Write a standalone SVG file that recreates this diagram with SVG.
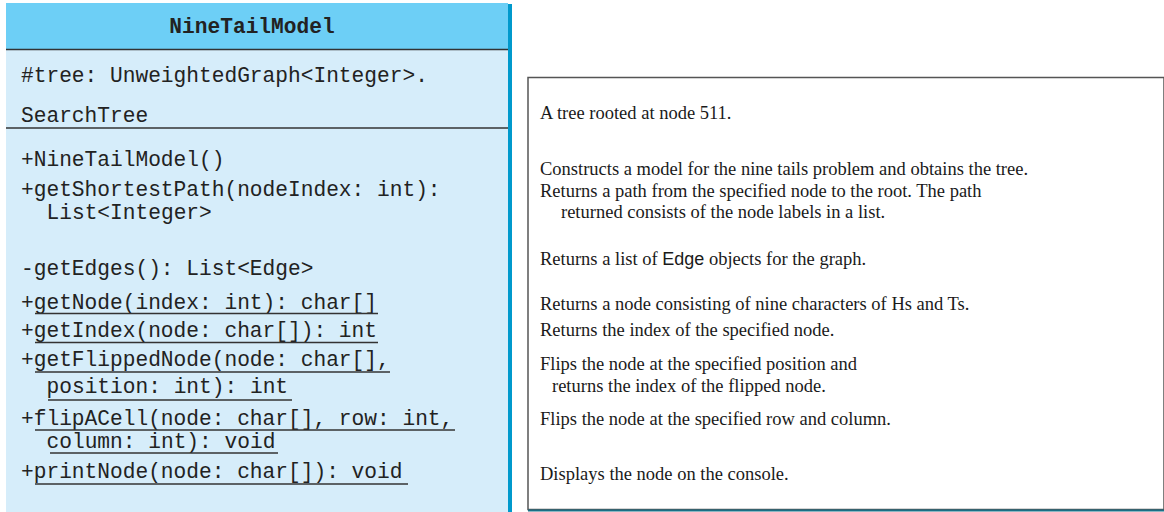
<svg xmlns="http://www.w3.org/2000/svg" width="1164" height="512" viewBox="0 0 1164 512">
<style>
.m{font-family:"Liberation Mono","DejaVu Sans Mono",monospace;font-size:21.2px;fill:#222}
.t{font-family:"Liberation Serif","Times New Roman",serif;font-size:18.5px;fill:#1a1a1a}
.s{font-family:"Liberation Sans",Arial,sans-serif;font-size:18px}
.u{stroke:#333;stroke-width:1.3}
</style>
<rect width="1164" height="512" fill="#fff"/>
<g id="class-NineTailModel">
<rect x="9" y="4" width="503" height="508" fill="#0099cc"/>
<rect x="6" y="3" width="502" height="509" fill="#d6edfa"/>
<rect x="6" y="3" width="502" height="46.5" fill="#6dcff6"/>
<line x1="6" y1="49.5" x2="508" y2="49.5" stroke="#333" stroke-width="1.5"/>
<line x1="6" y1="128" x2="508" y2="128" stroke="#333" stroke-width="1.5"/>
<text x="252" y="33" text-anchor="middle" class="m" font-weight="bold">NineTailModel</text>
<text x="21" y="82" class="m">#tree: UnweightedGraph&lt;Integer&gt;.</text>
<text x="21" y="122" class="m">SearchTree</text>
<text x="21" y="166" class="m">+NineTailModel()</text>
<text x="21" y="196" class="m">+getShortestPath(nodeIndex: int):</text>
<text x="46.5" y="219" class="m">List&lt;Integer&gt;</text>
<text x="21" y="275" class="m">-getEdges(): List&lt;Edge&gt;</text>
<text x="21" y="309" class="m">+getNode(index: int): char[]</text>
<text x="21" y="337" class="m">+getIndex(node: char[]): int</text>
<text x="21" y="366" class="m">+getFlippedNode(node: char[],</text>
<text x="46.5" y="393" class="m">position: int): int</text>
<text x="21" y="425" class="m">+flipACell(node: char[], row: int,</text>
<text x="46.5" y="448" class="m">column: int): void</text>
<text x="21" y="478" class="m">+printNode(node: char[]): void</text>
<line class="u" x1="35" y1="313.5" x2="378" y2="313.5"/>
<line class="u" x1="35" y1="342.5" x2="378" y2="342.5"/>
<line class="u" x1="35" y1="372" x2="390" y2="372"/>
<line class="u" x1="48" y1="400" x2="292" y2="400"/>
<line class="u" x1="35" y1="430" x2="455" y2="430"/>
<line class="u" x1="50" y1="453" x2="278" y2="453"/>
<line class="u" x1="35" y1="484" x2="408" y2="484"/>
</g>
<g id="descriptions">
<rect x="528" y="77.5" width="636" height="432" fill="#fff" stroke="#555" stroke-width="1.5"/>
<line x1="528" y1="510.5" x2="1164" y2="510.5" stroke="#1a6f86" stroke-width="2"/>
<text x="540" y="119" class="t">A tree rooted at node 511.</text>
<text x="540" y="175" class="t">Constructs a model for the nine tails problem and obtains the tree.</text>
<text x="540" y="197" class="t">Returns a path from the specified node to the root. The path</text>
<text x="561" y="218" class="t">returned consists of the node labels in a list.</text>
<text x="540" y="265" class="t">Returns a list of <tspan class="s">Edge</tspan> objects for the graph.</text>
<text x="540" y="310" class="t">Returns a node consisting of nine characters of Hs and Ts.</text>
<text x="540" y="336" class="t">Returns the index of the specified node.</text>
<text x="540" y="370" class="t">Flips the node at the specified position and</text>
<text x="552" y="392" class="t">returns the index of the flipped node.</text>
<text x="540" y="425" class="t">Flips the node at the specified row and column.</text>
<text x="540" y="480" class="t">Displays the node on the console.</text>
</g>
<g id="connectors"/>
</svg>
